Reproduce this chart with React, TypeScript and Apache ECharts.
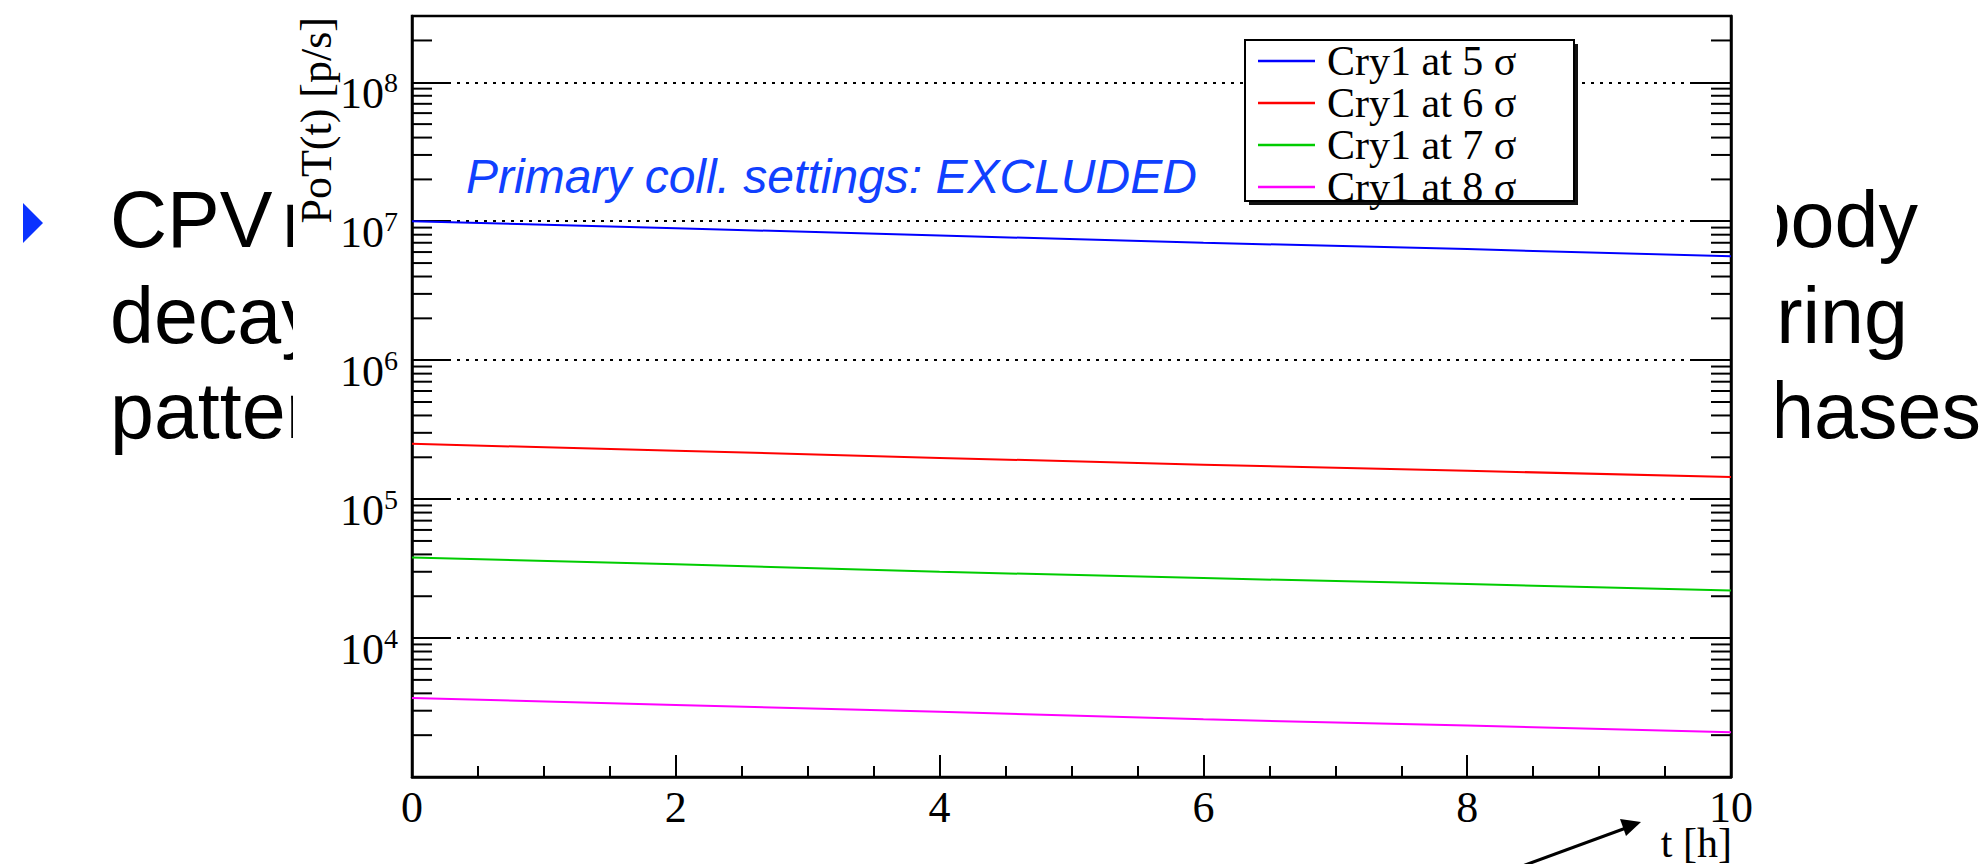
import React, { useEffect, useRef } from "react";
import * as echarts from "echarts";

// ---- data ----
const timeHours = [0, 2, 4, 6, 8, 10];
const seriesNames = ["Cry1 at 5 σ", "Cry1 at 6 σ", "Cry1 at 7 σ", "Cry1 at 8 σ"];
const seriesColors = ["#0000ff", "#ff0000", "#00cc00", "#ff00ff"];
const cry5 = [1.0e7, 8.9e6, 7.9e6, 7.0e6, 6.3e6, 5.6e6];
const cry6 = [2.5e5, 2.23e5, 1.98e5, 1.77e5, 1.6e5, 1.44e5];
const cry7 = [3.8e4, 3.4e4, 3.0e4, 2.7e4, 2.45e4, 2.2e4];
const cry8 = [3.7e3, 3.3e3, 2.95e3, 2.6e3, 2.35e3, 2.1e3];
const seriesValues = [cry5, cry6, cry7, cry8];

const yMin = 1e3;
const yMax = 3e8;
const xMin = 0;
const xMax = 10;
const xInterval = 2;
const minorDecades = [3, 4, 5, 6, 7, 8];
const minorMultipliers = [2, 3, 4, 5, 6, 7, 8, 9];

const annotationText = "Primary coll. settings: EXCLUDED";
const yTitle = "PoT(t) [p/s]";
const xTitle = "t [h]";
const slideLeft = ["CPV", "decays", "pattern"];
const slideLeftTail = "m";
const slideRight = ["body", "ering", "phases"];

const SERIF = "'Liberation Serif', 'Times New Roman', serif";
const SANS = "'Liberation Sans', Helvetica, Arial, sans-serif";

export default function App() {
  const ref = useRef<HTMLDivElement>(null);

  useEffect(() => {
    if (!ref.current) return;
    const chart = echarts.init(ref.current, undefined, { renderer: "svg" });

    const minorTicks: number[][] = [];
    minorDecades.forEach((d) => {
      minorMultipliers.forEach((m) => {
        const v = m * Math.pow(10, d);
        if (v < yMax) minorTicks.push([0, v]);
      });
    });

    const lineSeries = seriesNames.map((name, i) => ({
      name,
      type: "line",
      data: timeHours.map((t, j) => [t, seriesValues[i][j]]),
      symbol: "none",
      lineStyle: { color: seriesColors[i], width: 2 },
      itemStyle: { color: seriesColors[i] },
      z: 2,
    }));

    const slideMiddles = [219, 315, 410];
    const rightEdges = [1918, 1908, 1981];

    const option: any = {
      animation: false,
      backgroundColor: "#ffffff",
      grid: {
        left: 412,
        top: 16,
        right: 257,
        bottom: 87,
        show: true,
        borderColor: "#000",
        borderWidth: 2.5,
        backgroundColor: "transparent",
      },
      xAxis: {
        type: "value",
        min: xMin,
        max: xMax,
        interval: xInterval,
        axisLine: { show: true, lineStyle: { color: "#000", width: 2.5 } },
        axisTick: { show: true, inside: true, length: 22, lineStyle: { color: "#000", width: 2 } },
        minorTick: { show: true, splitNumber: 4, length: 11, lineStyle: { color: "#000", width: 2 } },
        splitLine: { show: false },
        axisLabel: {
          fontFamily: SERIF,
          fontSize: 44,
          lineHeight: 44,
          color: "#000",
          margin: 8,
        },
      },
      yAxis: [
        {
          type: "log",
          logBase: 10,
          min: yMin,
          max: yMax,
          axisLine: { show: true, lineStyle: { color: "#000", width: 2.5 } },
          axisTick: { show: true, inside: true, length: 39, lineStyle: { color: "#000", width: 2 } },
          splitLine: {
            show: true,
            lineStyle: { color: "#000", width: 2, type: [3, 6] },
          },
          axisLabel: {
            margin: 14,
            verticalAlign: "middle",
            showMaxLabel: false,
            showMinLabel: false,
            formatter: (v: number) => {
              const e = Math.round(Math.log10(v));
              if (Math.abs(v - Math.pow(10, e)) / v > 1e-6) return "";
              if (v <= yMin * 1.0001) return "";
              return `{b|10}{s|${e}}`;
            },
            rich: {
              b: {
                fontFamily: SERIF,
                fontSize: 44,
                lineHeight: 44,
                color: "#000",
                verticalAlign: "bottom",
              },
              s: {
                fontFamily: SERIF,
                fontSize: 28,
                lineHeight: 66,
                color: "#000",
                verticalAlign: "middle",
              },
            },
          },
        },
        {
          type: "log",
          logBase: 10,
          min: yMin,
          max: yMax,
          position: "right",
          axisLine: { show: true, lineStyle: { color: "#000", width: 2.5 } },
          axisTick: { show: true, inside: true, length: 39, lineStyle: { color: "#000", width: 2 } },
          splitLine: { show: false },
          axisLabel: { show: false },
        },
      ],
      legend: {
        data: seriesNames,
        orient: "vertical",
        left: 1245,
        top: 40,
        icon: "rect",
        itemWidth: 57,
        itemHeight: 2.5,
        itemGap: 0,
        padding: [0, 0, 0, 13],
        selectedMode: false,
        z: 6,
        textStyle: {
          fontFamily: SERIF,
          fontSize: 42,
          lineHeight: 40,
          color: "#000",
          padding: [0, 0, 0, 7],
        },
      },
      series: [
        ...lineSeries,
        {
          type: "custom",
          name: "minorTicks",
          xAxisIndex: 0,
          yAxisIndex: 0,
          data: minorTicks,
          silent: true,
          z: 3,
          renderItem: (params: any, api: any) => {
            const v = api.value(1);
            const a = api.coord([xMin, v]);
            const b = api.coord([xMax, v]);
            return {
              type: "group",
              children: [
                {
                  type: "line",
                  shape: { x1: a[0], y1: a[1], x2: a[0] + 20, y2: a[1] },
                  style: { stroke: "#000", lineWidth: 2 },
                },
                {
                  type: "line",
                  shape: { x1: b[0] - 20, y1: b[1], x2: b[0], y2: b[1] },
                  style: { stroke: "#000", lineWidth: 2 },
                },
              ],
            };
          },
        },
      ],
      graphic: [
        // slide text behind the chart picture
        {
          type: "polygon",
          z: -3,
          shape: { points: [[23, 203], [43, 223], [23, 243]] },
          style: { fill: "#0a32ff" },
        },
        ...slideLeft.map((t, i) => ({
          type: "text",
          z: -3,
          x: 110,
          y: slideMiddles[i],
          style: {
            text: t,
            fontFamily: SANS,
            fontSize: 79,
            fill: "#000",
            align: "left",
            verticalAlign: "middle",
          },
        })),
        {
          type: "text",
          z: -3,
          x: 282,
          y: slideMiddles[0],
          style: {
            text: slideLeftTail,
            fontFamily: SANS,
            fontSize: 79,
            fill: "#000",
            align: "left",
            verticalAlign: "middle",
          },
        },
        ...slideRight.map((t, i) => ({
          type: "text",
          z: -3,
          x: rightEdges[i],
          y: slideMiddles[i],
          style: {
            text: t,
            fontFamily: SANS,
            fontSize: 79,
            fill: "#000",
            align: "right",
            verticalAlign: "middle",
          },
        })),
        // white chart picture background
        {
          type: "rect",
          z: -2,
          shape: { x: 293, y: 0, width: 1777 - 293, height: 864 },
          style: { fill: "#ffffff" },
        },
        // legend box with shadow
        {
          type: "rect",
          z: 4,
          shape: { x: 1249, y: 44, width: 329, height: 161 },
          style: { fill: "#111" },
        },
        {
          type: "rect",
          z: 5,
          shape: { x: 1245, y: 40, width: 329, height: 161 },
          style: { fill: "#fff", stroke: "#000", lineWidth: 2 },
        },
        // annotation
        {
          type: "text",
          z: 5,
          x: 466,
          y: 176,
          style: {
            text: annotationText,
            fontFamily: SANS,
            fontStyle: "italic",
            fontSize: 48,
            fill: "#1040ff",
            align: "left",
            verticalAlign: "middle",
          },
        },
        // y title
        {
          type: "text",
          z: 5,
          x: 316,
          y: 17,
          rotation: Math.PI / 2,
          style: {
            text: yTitle,
            fontFamily: SERIF,
            fontSize: 44,
            fill: "#000",
            align: "right",
            verticalAlign: "middle",
          },
        },
        // x title
        {
          type: "text",
          z: 5,
          x: 1732,
          y: 843,
          style: {
            text: xTitle,
            fontFamily: SERIF,
            fontSize: 42,
            fill: "#000",
            align: "right",
            verticalAlign: "middle",
          },
        },
        // arrow
        {
          type: "line",
          z: 5,
          shape: { x1: 1517, y1: 868, x2: 1626, y2: 828 },
          style: { stroke: "#000", lineWidth: 3 },
        },
        {
          type: "polygon",
          z: 5,
          shape: { points: [[1641, 822], [1626, 836], [1620, 819]] },
          style: { fill: "#000" },
        },
      ],
    };

    chart.setOption(option);
    return () => chart.dispose();
  }, []);

  return (
    <div
      ref={ref}
      style={{ position: "absolute", left: 0, top: 0, width: 1988, height: 864, background: "#fff" }}
    />
  );
}
